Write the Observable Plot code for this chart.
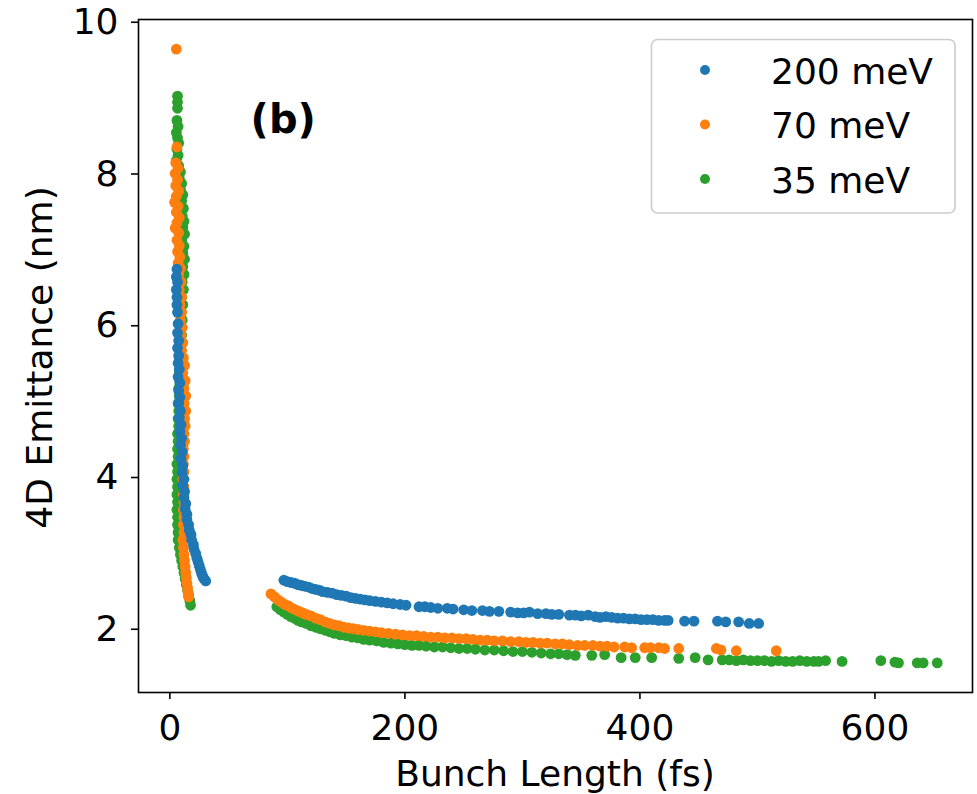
<!DOCTYPE html>
<html><head><meta charset="utf-8">
<script src="https://cdn.jsdelivr.net/npm/d3@7"></script>
<script src="https://cdn.jsdelivr.net/npm/@observablehq/plot@0.6"></script>
<style>
html,body{margin:0;padding:0;background:#fff;}
#chart{position:relative;width:977px;height:794px;}
</style></head><body><div id="chart"></div>
<script>
const seriesNames = ["200 meV", "70 meV", "35 meV"];
const seriesColors = ["#1f77b4", "#ff7f0e", "#2ca02c"];
const xTicks = [0, 200, 400, 600];
const yTicks = [2, 4, 6, 8, 10];
const xLabel = "Bunch Length (fs)";
const yLabel = "4D Emittance (nm)";
const panelLabel = [{x: 68.7, y: 8.51, text: "(b)"}];

// 200 meV, steep branch and long branch
const blue200 = [
[6,6.72],[5.5,6.62],[6.5,6.55],[5.5,6.45],[6,6.35],[6,6.25],[6.5,6.15],[7,6.0],[6.5,5.88],[7.5,5.78],[6.5,5.68],[7.5,5.58],[7,5.48],[8,5.4],[7,5.3],[8.5,5.22],[7.5,5.12],[8.5,5.03],[7.5,4.95],[9,4.85],[8,4.76],[9.5,4.67],[8.5,4.58],[10,4.49],[9,4.4],[10.5,4.31],[9.5,4.22],[11,4.13],[10.5,4.04],[12,3.95],[11,3.87],[12.5,3.79],[12,3.71],[13.5,3.63],[13,3.56],[14.5,3.49],[14.5,3.42],[16,3.35],[16.5,3.28],[18,3.22],[18.5,3.15],[20,3.09],[20.5,3.03],[22,2.97],[23,2.91],[24,2.86],[25,2.81],[26,2.76],[27,2.71],[28,2.67],[29,2.64],[30.5,2.61],
[97,2.62],[100,2.60],[103,2.59],[106,2.58],[109,2.56],[112,2.55],[115,2.54],[118,2.53],[121,2.51],[124,2.50],[127,2.49],[130,2.47],[134,2.46],[138,2.45],[142,2.43],[146,2.42],[150,2.41],[154,2.39],[158,2.38],[162,2.37],[166,2.36],[170,2.35],[175,2.34],[180,2.33],[185,2.32],[190,2.31],[196,2.30],[201,2.29],[212,2.27],[217,2.27],[222,2.26],[228,2.25],[236,2.25],[241,2.24],[250,2.23],[257,2.22],[266,2.22],[272,2.21],[280,2.21],[290,2.20],[296,2.19],[301,2.19],[306,2.20],[313,2.18],[320,2.18],[325,2.17],[331,2.17],[340,2.16],[345,2.16],[350,2.15],[356,2.16],[362,2.14],[366,2.13],[371,2.14],[376,2.13],[381,2.12],[386,2.12],[391,2.11],[396,2.11],[401,2.10],[406,2.10],[411,2.10],[416,2.09],[421,2.09],[424,2.09],[438,2.08],[446,2.08],[466,2.08],[473,2.07],[484,2.07],[493,2.05],[501,2.05]
];

// 70 meV
const orange70 = [
[5.5,9.62],[6,8.33],[5,8.12],[7,8.05],[4.5,7.98],[6.5,7.9],[5,7.82],[7.5,7.75],[5.5,7.68],[4,7.6],[7,7.55],[5.5,7.47],[8,7.4],[6,7.33],[4.5,7.26],[7.5,7.2],[6,7.1],[8,7.03],[6.5,6.95],[8.5,6.88],[7,6.8],[9,6.73],[7.5,6.65],[9.5,6.55],[8,6.45],[10,6.35],[8.5,6.25],[10,6.15],[9,6.05],[10.5,5.95],[9.5,5.85],[11,5.75],[10,5.65],[11.5,5.55],[12.5,5.45],[11,5.35],[13,5.25],[12,5.15],[13.5,5.05],[12,4.95],[13.5,4.85],[12.5,4.75],[13,4.65],[12,4.55],[12.5,4.45],[11.5,4.35],[12,4.25],[11.5,4.15],[12,4.05],[11,3.95],[12,3.85],[11.5,3.75],[12,3.65],[11.5,3.55],[12,3.45],[11.5,3.35],[12,3.25],[11,3.15],[11.5,3.05],[12,2.96],[12.5,2.88],[13,2.8],[13.5,2.72],[14,2.65],[14.5,2.58],[15,2.52],[15.5,2.46],[16,2.4],
[86,2.44],[89,2.40],[92,2.36],[95,2.33],[98,2.30],[101,2.28],[104,2.25],[107,2.23],[110,2.21],[113,2.19],[116,2.17],[120,2.15],[124,2.12],[128,2.10],[132,2.07],[136,2.05],[140,2.03],[144,2.02],[148,2.00],[152,1.99],[156,1.98],[160,1.97],[165,1.96],[170,1.95],[175,1.94],[180,1.93],[186,1.92],[192,1.91],[198,1.90],[204,1.89],[210,1.89],[216,1.88],[222,1.87],[228,1.87],[234,1.86],[240,1.86],[246,1.85],[252,1.85],[258,1.84],[264,1.83],[270,1.83],[276,1.82],[283,1.82],[290,1.81],[297,1.81],[303,1.80],[309,1.80],[315,1.79],[321,1.79],[328,1.78],[334,1.78],[340,1.77],[347,1.76],[353,1.76],[360,1.76],[366,1.75],[372,1.75],[378,1.74],[387,1.74],[393,1.73],[404,1.73],[409,1.73],[416,1.73],[421,1.72],[433,1.72],[465,1.72],[469,1.70],[482,1.69],[516,1.69]
];

// 35 meV
const green35 = [
[6.5,9.0],[6.5,8.92],[6.5,8.84],[6,8.68],[7,8.6],[5.5,8.52],[6.5,8.45],[7.5,8.38],[6,8.3],[7,8.22],[5.5,8.15],[7.5,8.08],[9,8.0],[8,7.92],[10,7.85],[9,7.77],[11,7.7],[10,7.62],[11.5,7.52],[10.5,7.42],[12,7.35],[11,7.27],[12.5,7.18],[10,7.1],[12,7.02],[11,6.93],[12.5,6.85],[11,6.75],[12,6.65],[10.5,6.55],[11.5,6.45],[10,6.35],[11,6.25],[9.5,6.15],[10.5,6.05],[9,5.95],[10,5.85],[8.5,5.75],[9.5,5.65],[8,5.55],[9,5.45],[8,5.35],[8.5,5.25],[7.5,5.15],[8,5.05],[7,4.95],[7.5,4.85],[7,4.75],[7.5,4.65],[6.5,4.55],[7,4.45],[6.5,4.35],[7,4.25],[6,4.15],[6.5,4.05],[6,3.95],[6.5,3.85],[6,3.75],[6.5,3.65],[6,3.55],[6.5,3.45],[6.5,3.35],[7,3.25],[7,3.15],[8,3.05],[9,2.96],[10,2.88],[11,2.8],[12,2.72],[13,2.64],[14,2.56],[15,2.49],[16,2.42],[17,2.35],[17.6,2.29],
[91,2.27],[94,2.23],[97,2.20],[100,2.17],[103,2.14],[106,2.12],[109,2.09],[112,2.07],[116,2.05],[120,2.02],[124,2.00],[128,1.98],[132,1.96],[136,1.94],[140,1.92],[145,1.90],[150,1.89],[155,1.87],[160,1.86],[165,1.84],[170,1.83],[176,1.82],[182,1.80],[188,1.79],[194,1.78],[200,1.77],[206,1.76],[212,1.76],[218,1.75],[225,1.74],[232,1.74],[239,1.73],[246,1.72],[253,1.72],[260,1.71],[268,1.70],[276,1.70],[284,1.69],[292,1.68],[300,1.68],[308,1.67],[316,1.66],[324,1.65],[331,1.65],[338,1.64],[345,1.63],[359,1.63],[370,1.64],[384,1.60],[396,1.60],[410,1.60],[433,1.59],[447,1.60],[458,1.57],[470,1.57],[476,1.57],[482,1.56],[488,1.57],[494,1.56],[500,1.56],[506,1.56],[512,1.55],[518,1.56],[524,1.55],[530,1.55],[536,1.56],[542,1.55],[548,1.55],[552,1.55],[558,1.56],[572,1.55],[605,1.56],[617,1.54],[620,1.53],[636,1.53],[641,1.53],[653,1.53]
];

const rows = (arr, s) => arr.map(([x, y]) => ({x, y, s}));
const data = [...rows(green35, seriesNames[2]), ...rows(orange70, seriesNames[1]), ...rows(blue200, seriesNames[0])];

const W = 977, H = 794, mL = 138, mR = 5, mT = 19, mB = 102;
const FONT = "DejaVu Sans";

const plot = Plot.plot({
  width: W, height: H,
  marginLeft: mL, marginRight: mR, marginTop: mT, marginBottom: mB,
  style: {fontFamily: FONT, fontSize: "36px", color: "#000", background: "#fff"},
  x: {domain: [-26.7, 683]},
  y: {domain: [1.14, 10.01]},
  color: {domain: seriesNames, range: seriesColors},
  marks: [
    Plot.dot(data, {x: "x", y: "y", fill: "s", r: 5.4}),
    Plot.text(panelLabel, {x: "x", y: "y", text: "text", textAnchor: "start", lineAnchor: "bottom", fontWeight: "bold", fontSize: 40, fill: "#000"}),
    Plot.frame({stroke: "#000", strokeWidth: 1.6}),
    Plot.axisX({ticks: xTicks, tickSize: 7, tickPadding: 15, strokeWidth: 1.6, label: null, fontSize: 36, tickFormat: d => String(d)}),
    Plot.axisY({ticks: yTicks, tickSize: 7, tickPadding: 13, strokeWidth: 1.6, label: null, fontSize: 36, dy: 2, tickFormat: d => String(d)})
  ]
});
document.getElementById("chart").appendChild(plot);

const svg = d3.select(plot);
// axis titles
svg.append("text").attr("x", (mL + W - mR) / 2).attr("y", 786)
  .attr("text-anchor", "middle").attr("font-family", FONT).attr("font-size", 36).attr("fill", "#000").text(xLabel);
svg.append("text").attr("transform", `translate(51.5,${(mT + H - mB) / 2 + 2}) rotate(-90)`)
  .attr("text-anchor", "middle").attr("font-family", FONT).attr("font-size", 36).attr("fill", "#000").text(yLabel);

// legend
const lg = svg.append("g");
lg.append("rect").attr("x", 651.5).attr("y", 39.5).attr("width", 303.5).attr("height", 173.5)
  .attr("rx", 6).attr("fill", "#fff").attr("fill-opacity", 0.8).attr("stroke", "#cccccc").attr("stroke-width", 1.6);
seriesNames.forEach((name, i) => {
  const cy = 70 + i * 54.5;
  lg.append("circle").attr("cx", 705).attr("cy", cy).attr("r", 5).attr("fill", seriesColors[i]);
  lg.append("text").attr("x", 771).attr("y", cy + 13.5).attr("text-anchor", "start")
    .attr("font-family", FONT).attr("font-size", 36).attr("fill", "#000").text(name);
});
</script>
</body></html>
